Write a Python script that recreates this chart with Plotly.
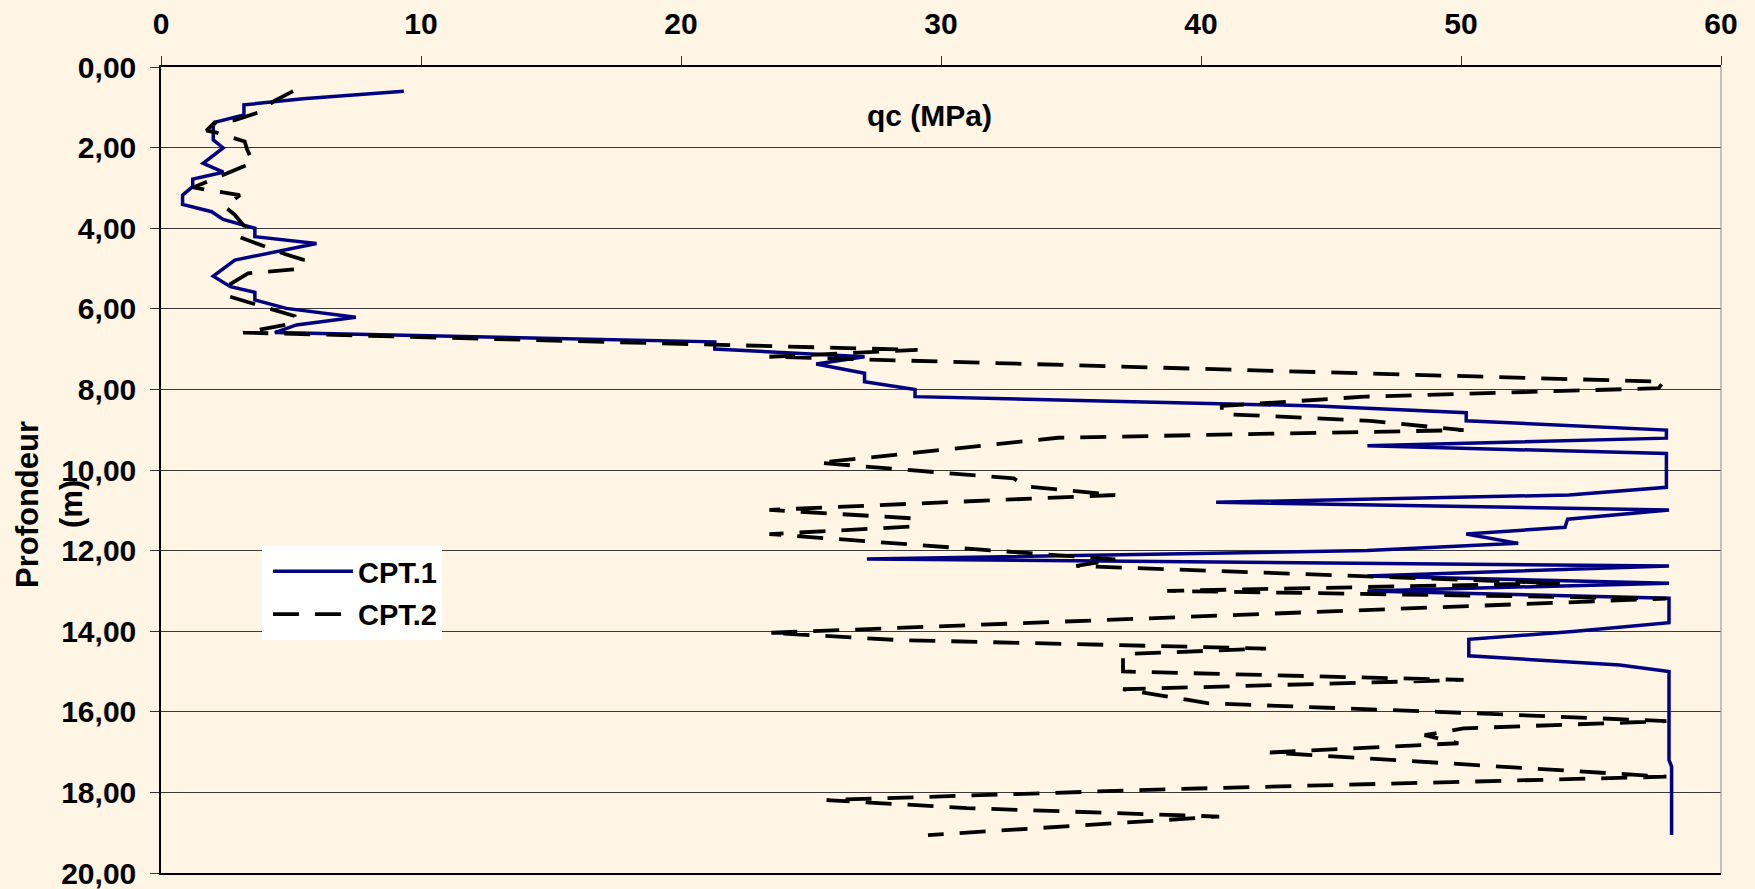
import plotly.graph_objects as go

# ---- data ----
cpt1_qc = [9.34, 5.46, 3.19, 3.19, 2.14, 2.01, 2.01, 2.39, 1.62, 2.40, 1.22, 1.22, 0.83, 0.83,
           1.95, 2.39, 3.61, 3.61, 5.98, 2.84, 2.01, 2.67, 3.61, 3.61, 4.82, 7.49, 5.21, 4.38,
           21.3, 21.3, 27.06, 25.2, 27.06, 27.06, 29.0, 29.0, 44.45, 50.2, 50.2, 57.9, 57.9,
           46.4, 57.9, 57.9, 54.15, 40.58, 58.0, 54.1, 54.0, 50.2, 52.2, 46.4, 27.15, 58.0,
           46.4, 58.0, 46.4, 58.0, 58.0, 54.3, 50.3, 50.3, 56.1, 58.0, 58.0, 58.1, 58.1]
cpt1_depth = [0.60, 0.79, 0.94, 1.19, 1.36, 1.44, 1.81, 2.01, 2.39, 2.61, 2.78, 2.97, 3.18, 3.41,
              3.59, 3.78, 4.00, 4.21, 4.38, 4.79, 5.19, 5.45, 5.59, 5.78, 5.99, 6.21, 6.40, 6.59,
              6.82, 7.00, 7.19, 7.37, 7.60, 7.81, 8.00, 8.18, 8.41, 8.58, 8.78, 9.01, 9.21,
              9.40, 9.59, 10.43, 10.62, 10.80, 10.99, 11.22, 11.42, 11.59, 11.82, 12.00, 12.21, 12.38,
              12.63, 12.81, 13.00, 13.18, 13.79, 14.01, 14.20, 14.61, 14.84, 15.00, 17.20, 17.36, 19.06]

cpt2_qc = [5.08, 4.31, 3.83, 2.84, 2.07, 1.75, 2.14, 3.22, 3.31, 3.54, 1.24, 3.03, 2.46, 2.84,
           3.22, 2.90, 4.76, 5.46, 5.46, 3.35, 2.46, 2.65, 5.14, 5.14, 3.16, 21.3, 29.1, 23.4,
           57.8, 57.6, 46.3, 40.8, 40.8, 46.5, 50.1, 34.5, 29.2, 25.3, 32.8, 33.3, 36.7, 23.4,
           28.9, 29.0, 23.4, 36.7, 35.2, 53.8, 38.7, 57.9, 23.4, 28.4, 42.5, 37.0, 37.0, 50.1,
           37.0, 40.3, 49.1, 57.9, 50.1, 48.6, 49.9, 42.65, 57.9, 38.8, 25.6, 31.0, 40.7, 29.5]
cpt2_depth = [0.60, 0.86, 1.11, 1.32, 1.37, 1.58, 1.63, 1.85, 2.04, 2.37, 2.99, 3.18, 3.47, 3.67,
              3.96, 4.19, 4.64, 4.78, 5.00, 5.12, 5.47, 5.70, 6.18, 6.36, 6.59, 6.90, 7.02, 7.19,
              7.81, 7.97, 8.18, 8.41, 8.61, 8.78, 9.01, 9.20, 9.57, 9.82, 10.21, 10.41, 10.62, 10.99,
              11.20, 11.40, 11.59, 12.22, 12.38, 12.81, 13.00, 13.19, 14.04, 14.22, 14.43, 14.57, 15.00, 15.21,
              15.44, 15.79, 16.00, 16.23, 16.41, 16.58, 16.78, 17.01, 17.61, 17.92, 18.19, 18.39, 18.60, 19.06]

x_ticks = [0, 10, 20, 30, 40, 50, 60]
y_ticks = [0, 2, 4, 6, 8, 10, 12, 14, 16, 18, 20]
y_ticklabels = ["0,00", "2,00", "4,00", "6,00", "8,00", "10,00", "12,00", "14,00", "16,00", "18,00", "20,00"]

BG = "#FFF5E5"
FONT = "Liberation Sans, Arial, sans-serif"

L, R, T, B = 161, 34, 67, 16
W, H = 1755, 889
PW, PH = W - L - R, H - T - B


def px(xf):
    return (xf - L) / PW


def py(yf):
    return 1 - (yf - T) / PH


fig = go.Figure()
fig.add_trace(go.Scatter(x=cpt1_qc, y=cpt1_depth, mode="lines", name="CPT.1", legendgroup="a",
                         line=dict(color="#000080", width=3.5)))
fig.add_trace(go.Scatter(x=cpt2_qc, y=cpt2_depth, mode="lines", name="CPT.2", legendgroup="b",
                         line=dict(color="#000000", width=3.8, dash="26px,16px")))

fig.update_layout(
    width=W, height=H,
    margin=dict(l=L, r=R, t=T, b=B),
    paper_bgcolor=BG, plot_bgcolor=BG,
    font=dict(family=FONT, size=30, color="#000000"),
    showlegend=True,
    legend=dict(x=px(262), y=py(546), xanchor="left", yanchor="top",
                bgcolor="#FFFFFF", borderwidth=0,
                font=dict(family=FONT, size=29, color="#000000", weight="bold"),
                itemwidth=80, tracegroupgap=2, indentation=6),
    xaxis=dict(side="top", range=[0, 60], tickmode="array", tickvals=x_ticks,
               ticktext=[f"<b>{v}</b>" for v in x_ticks],
               showgrid=False, zeroline=False, automargin=False,
               showline=True, linecolor="#000000", linewidth=1.5, mirror=True,
               ticks="outside", ticklen=9, tickcolor="#333333", tickwidth=1,
               ticklabelstandoff=10, ticklabeloverflow="allow",
               tickfont=dict(family=FONT, size=30)),
    yaxis=dict(range=[20, 0], tickmode="array", tickvals=y_ticks,
               ticktext=[f"<b>{t}</b>" for t in y_ticklabels],
               showgrid=True, gridcolor="#3a3a3a", gridwidth=1.3, zeroline=False, automargin=False,
               showline=True, linecolor="#000000", linewidth=1.5,
               ticks="outside", ticklen=9, tickcolor="#333333", tickwidth=1,
               ticklabelstandoff=8, ticklabeloverflow="allow",
               tickfont=dict(family=FONT, size=30)),
    annotations=[
        dict(text="<b>qc (MPa)</b>", xref="paper", yref="paper",
             x=px(929.5), y=py(115),
             xanchor="center", yanchor="middle", showarrow=False,
             font=dict(family=FONT, size=30)),
        dict(text="<b>Profondeur</b>", xref="paper", yref="paper",
             x=px(27), y=py(505), textangle=-90,
             xanchor="center", yanchor="middle", showarrow=False,
             font=dict(family=FONT, size=31)),
        dict(text="<b>(m)</b>", xref="paper", yref="paper",
             x=px(72), y=py(504), textangle=-90,
             xanchor="center", yanchor="middle", showarrow=False,
             font=dict(family=FONT, size=31)),
    ],
    shapes=[dict(type="line", xref="paper", yref="paper", x0=1, x1=1, y0=0, y1=1,
                 line=dict(color="#9a9a9a", width=1.2))],
)

fig.write_html("out.html")
